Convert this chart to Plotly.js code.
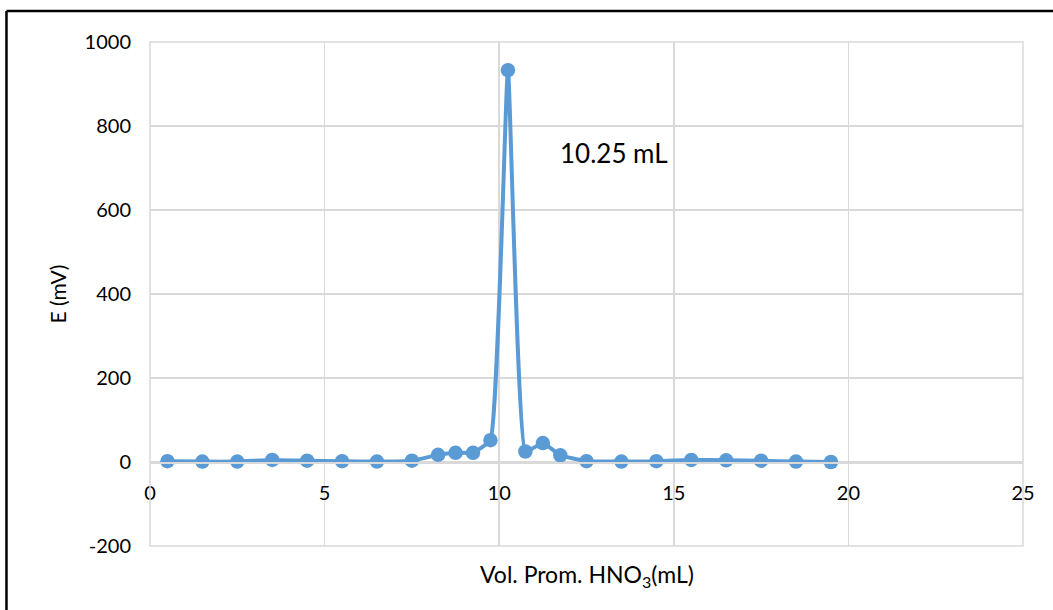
<!DOCTYPE html>
<html>
<head>
<meta charset="utf-8">
<script src="https://cdn.plot.ly/plotly-3.0.1.min.js"></script>
<style>html,body{margin:0;padding:0;background:#fff;}#chart{width:1053px;height:610px;}</style>
</head>
<body>
<div id="chart"></div>
<script>
const volumes = [0.5, 1.5, 2.5, 3.5, 4.5, 5.5, 6.5, 7.5, 8.25, 8.75, 9.25, 9.75, 10.25, 10.75, 11.25, 11.75, 12.5, 13.5, 14.5, 15.5, 16.5, 17.5, 18.5, 19.5];
const potentials = [2, 1, 1, 5, 3, 2, 1, 3, 17, 22, 22, 52, 933, 25, 45, 16, 2, 1, 2, 5, 4, 3, 1, 0];
const xTicks = [0, 5, 10, 15, 20, 25];
const yTicks = [-200, 0, 200, 400, 600, 800, 1000];
const endpointLabel = "10.25 mL";
const endpointPos = [13.3, 736];

const font = "Lato, 'Liberation Sans', sans-serif";
const trace = {
  x: volumes, y: potentials, type: 'scatter', mode: 'lines+markers',
  line: {color: '#5b9bd5', width: 4, shape: 'spline', smoothing: 0.35},
  marker: {color: '#5b9bd5', size: 14.5},
  showlegend: false, cliponaxis: false
};
const layout = {
  width: 1053, height: 610,
  margin: {l: 150, r: 30, t: 42, b: 64},
  paper_bgcolor: '#fff', plot_bgcolor: '#fff',
  font: {family: font, size: 20, color: '#000'},
  xaxis: {
    range: [0, 25], tickvals: xTicks, ticktext: xTicks.map(String),
    showgrid: true, gridcolor: '#d9d9d9', gridwidth: 1.5,
    zeroline: false, showline: true, linecolor: '#d9d9d9', linewidth: 1.5,
    anchor: 'free', position: 1/6, ticks: '', ticklabelstandoff: 12,
    tickfont: {family: font, size: 20, color: '#000'}
  },
  yaxis: {
    range: [-200, 1000], tickvals: yTicks, ticktext: yTicks.map(String),
    showgrid: true, gridcolor: '#d9d9d9', gridwidth: 1.5,
    zeroline: false, showline: false, ticks: '', ticklabelstandoff: 18,
    tickfont: {family: font, size: 20, color: '#000'},
    title: {text: 'E (mV)', font: {family: font, size: 21, color: '#000'}, standoff: 12}
  },
  shapes: [
    {type: 'rect', xref: 'paper', yref: 'paper', x0: 0, x1: 1, y0: 0, y1: 1, line: {color: '#d9d9d9', width: 1.5}},
    {type: 'line', xref: 'paper', yref: 'paper', x0: -0.1644, x1: -0.1644, y0: 1.0616, y1: -0.13, line: {color: '#000', width: 2.5}},
    {type: 'line', xref: 'paper', yref: 'paper', x0: -0.1644, x1: 1.04, y0: 1.0616, y1: 1.0616, line: {color: '#000', width: 2.5}}
  ],
  annotations: [
    {x: endpointPos[0], y: endpointPos[1], xref: 'x', yref: 'y', text: endpointLabel, showarrow: false,
     font: {family: font, size: 26, color: '#000'}},
    {x: 0.5, y: -0.024, xref: 'paper', yref: 'paper', yanchor: 'top', showarrow: false,
     text: 'Vol. Prom. HNO<sub>3</sub>(mL)', font: {family: font, size: 23, color: '#000'}}
  ]
};
Plotly.newPlot('chart', [trace], layout, {displayModeBar: false, staticPlot: true});
</script>
</body>
</html>
